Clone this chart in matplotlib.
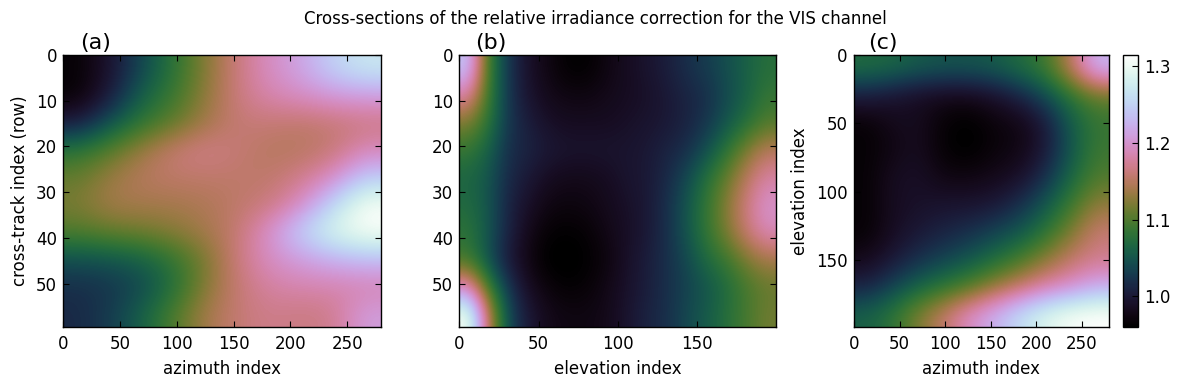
import matplotlib
matplotlib.use('Agg')
import matplotlib.pyplot as plt
import numpy as np

# values on a coarse grid, imshow smooths them
panel_a = [
    [0.965, 0.995, 1.04, 1.08, 1.125, 1.165, 1.195, 1.215, 1.25, 1.27],
    [0.965, 1.005, 1.06, 1.09, 1.13, 1.165, 1.185, 1.195, 1.205, 1.21],
    [1.005, 1.05, 1.085, 1.11, 1.14, 1.16, 1.16, 1.155, 1.16, 1.165],
    [1.08, 1.105, 1.135, 1.16, 1.17, 1.16, 1.15, 1.15, 1.16, 1.19],
    [1.11, 1.135, 1.15, 1.155, 1.155, 1.155, 1.155, 1.17, 1.195, 1.245],
    [1.12, 1.14, 1.14, 1.14, 1.145, 1.155, 1.165, 1.195, 1.255, 1.31],
    [1.10, 1.11, 1.115, 1.125, 1.14, 1.16, 1.20, 1.25, 1.29, 1.31],
    [1.045, 1.05, 1.06, 1.085, 1.12, 1.165, 1.195, 1.21, 1.225, 1.235],
    [1.02, 1.025, 1.04, 1.075, 1.125, 1.16, 1.18, 1.185, 1.185, 1.185],
    [1.015, 1.03, 1.06, 1.10, 1.14, 1.16, 1.17, 1.165, 1.17, 1.21],
]
panel_b = [
    [1.24, 1.09, 1.025, 0.99, 0.975, 0.962, 0.962, 0.975, 0.985, 0.995, 1.005, 1.02, 1.03, 1.045, 1.06, 1.075],
    [1.18, 1.09, 1.025, 0.995, 0.98, 0.975, 0.975, 0.98, 0.985, 0.99, 1.0, 1.01, 1.02, 1.04, 1.06, 1.085],
    [1.12, 1.08, 1.025, 1.005, 0.99, 0.985, 0.985, 0.985, 0.99, 0.995, 1.0, 1.01, 1.025, 1.05, 1.075, 1.10],
    [1.085, 1.06, 1.02, 1.01, 1.0, 0.995, 0.995, 0.995, 0.995, 1.0, 1.01, 1.02, 1.045, 1.08, 1.12, 1.15],
    [1.065, 1.05, 1.015, 1.0, 0.985, 0.98, 0.98, 0.985, 0.995, 1.0, 1.015, 1.04, 1.075, 1.11, 1.15, 1.18],
    [1.07, 1.05, 1.01, 0.99, 0.975, 0.972, 0.975, 0.982, 0.99, 1.0, 1.02, 1.05, 1.085, 1.125, 1.165, 1.20],
    [1.08, 1.05, 1.01, 0.98, 0.965, 0.962, 0.966, 0.978, 0.988, 1.0, 1.02, 1.05, 1.085, 1.12, 1.16, 1.19],
    [1.09, 1.045, 1.0, 0.975, 0.958, 0.956, 0.962, 0.972, 0.99, 1.005, 1.02, 1.04, 1.07, 1.09, 1.12, 1.14],
    [1.19, 1.09, 1.025, 0.985, 0.97, 0.963, 0.967, 0.978, 0.992, 1.005, 1.02, 1.035, 1.05, 1.07, 1.095, 1.11],
    [1.31, 1.15, 1.04, 1.0, 0.98, 0.975, 0.975, 0.98, 0.995, 1.01, 1.02, 1.04, 1.055, 1.075, 1.095, 1.115],
]
panel_c = [
    [1.07, 1.065, 1.055, 1.05, 1.05, 1.055, 1.07, 1.09, 1.15, 1.23],
    [1.005, 0.995, 0.985, 0.98, 0.98, 0.99, 1.01, 1.04, 1.08, 1.11],
    [0.965, 0.98, 0.985, 0.965, 0.958, 0.97, 0.975, 1.0, 1.055, 1.085],
    [0.965, 0.975, 0.985, 0.965, 0.958, 0.97, 0.975, 1.0, 1.05, 1.09],
    [0.965, 0.985, 0.99, 0.975, 0.975, 0.98, 0.99, 1.02, 1.065, 1.10],
    [0.965, 0.985, 0.99, 0.995, 0.995, 1.0, 1.02, 1.05, 1.09, 1.13],
    [0.965, 0.985, 1.0, 1.01, 1.02, 1.035, 1.05, 1.08, 1.12, 1.16],
    [0.98, 1.0, 1.02, 1.035, 1.05, 1.07, 1.095, 1.125, 1.155, 1.17],
    [1.01, 1.035, 1.06, 1.08, 1.10, 1.13, 1.155, 1.18, 1.195, 1.22],
    [1.06, 1.08, 1.12, 1.155, 1.195, 1.225, 1.26, 1.29, 1.31, 1.315],
]
cbar_ticks = [1.0, 1.1, 1.2, 1.3]
x_ticks_az = [0, 50, 100, 150, 200, 250]
x_ticks_el = [0, 50, 100, 150]
y_ticks_row = [0, 10, 20, 30, 40, 50]
y_ticks_el = [0, 50, 100, 150]

plt.rcParams['font.size'] = 12
plt.rcParams['xtick.direction'] = 'in'
plt.rcParams['ytick.direction'] = 'in'
plt.rcParams['xtick.top'] = True
plt.rcParams['ytick.right'] = True
plt.rcParams['xtick.major.size'] = 4
plt.rcParams['ytick.major.size'] = 4
plt.rcParams['xtick.major.pad'] = 5.5
plt.rcParams['ytick.major.pad'] = 4.5
plt.rcParams['axes.labelpad'] = 5
plt.rcParams['axes.linewidth'] = 1.0

W, H = 1178., 382.
fig = plt.figure(figsize=(W / 100, H / 100), dpi=100)
fig.text(595 / W, 1 - 18.5 / H, 'Cross-sections of the relative irradiance correction for the VIS channel',
         ha='center', va='center', fontsize=12)


def box(left, right):
    return [left / W, 1 - 327 / H, (right - left) / W, 272 / H]


def panel(data, left, right, extent, xticks, yticks, xlabel, ylabel, tag, tag_x):
    ax = fig.add_axes(box(left, right))
    im = ax.imshow(np.array(data), cmap='cubehelix', vmin=0.96, vmax=1.315, aspect='auto',
                   interpolation='bicubic', extent=extent)
    ax.set_xticks(xticks)
    ax.set_yticks(yticks)
    ax.set_xlabel(xlabel)
    if ylabel:
        ax.set_ylabel(ylabel)
    fig.text(tag_x / W, 1 - 43.5 / H, tag, fontsize=16, ha='left', va='center')
    return im


panel(panel_a, 63.3, 380.7, [0, 279.5, 59.5, 0], x_ticks_az, y_ticks_row, 'azimuth index', 'cross-track index (row)', '(a)', 80)
panel(panel_b, 459.3, 775.7, [0, 199.5, 59.5, 0], x_ticks_el, y_ticks_row, 'elevation index', None, '(b)', 475)
im = panel(panel_c, 854, 1108.7, [0, 279.5, 199, 0], x_ticks_az, y_ticks_el, 'azimuth index', 'elevation index', '(c)', 868)

cax = fig.add_axes(box(1123.3, 1137.7))
cb = fig.colorbar(im, cax=cax, ticks=cbar_ticks)
cb.ax.tick_params(direction='in', length=4, left=False)

fig.savefig('out.png', dpi=100)
